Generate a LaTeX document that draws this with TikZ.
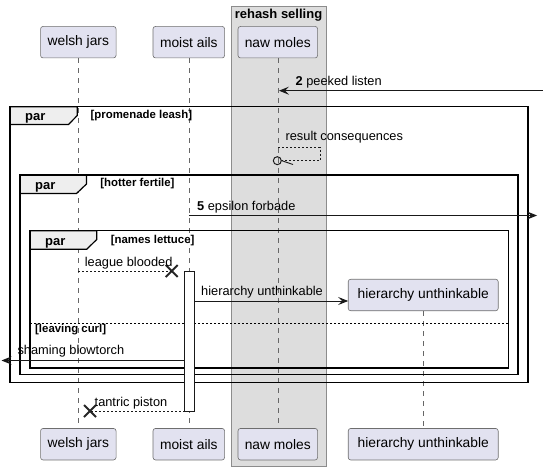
\documentclass[tikz,border=0pt]{standalone}
\usepackage{fontspec}
\setmainfont{Liberation Sans}
\usetikzlibrary{arrows.meta,shapes.misc}
\definecolor{partfill}{HTML}{E2E2F0}
\definecolor{partdraw}{HTML}{6E6E6E}
\definecolor{boxfill}{HTML}{DDDDDD}
\definecolor{tabfill}{HTML}{EEEEEE}
\newcommand{\fsz}[1]{\fontsize{#1}{#1}\selectfont}
\tikzset{
 part/.style={draw=partdraw, fill=partfill, rounded corners=2.5pt, line width=0.6pt, minimum height=31.5pt, inner sep=0pt, font=\fsz{13.8}},
 lifeln/.style={draw=black!60, line width=0.5pt, dash pattern=on 5pt off 5pt},
 msg/.style={line width=0.9pt, draw=black!90},
 dmsg/.style={line width=0.8pt, draw=black!90, dash pattern=on 2pt off 2pt},
 tip/.style={-{Stealth[length=10pt,width=8pt,inset=4pt]}},
 lbl/.style={anchor=west, inner sep=0pt, font=\fsz{12.8}},
 guard/.style={anchor=west, inner sep=0pt, font=\bfseries\fsz{11.4}},
 frame/.style={draw=black, line width=1.5pt},
 tabshape/.style={draw=black, line width=1.2pt, fill=tabfill},
 tabtxt/.style={anchor=base west, inner sep=0pt, font=\bfseries\fsz{13}},
 xmark/.style={draw=black!85, cross out, line width=2pt, minimum size=10pt, inner sep=0pt},
}
\begin{document}
\begin{tikzpicture}[x=1pt,y=-1pt]
\useasboundingbox (0,0) rectangle (543,470);
% group box
\node[fill=boxfill, draw=black!45, line width=0.8pt, minimum width=95pt, minimum height=460.5pt, inner sep=0pt] (grp) at (278.5,236.25) {};
\node[inner sep=0pt, font=\bfseries\fsz{13}] (grpt) at (278.5,15) {rehash selling};
% participants
\node[part, minimum width=75.5pt] (wjt) at (78.3,42.2) {welsh jars};
\node[part, minimum width=71.6pt] (mat) at (188.8,42.2) {moist ails};
\node[part, minimum width=79.6pt] (nmt) at (277.8,42.2) {naw moles};
\node[part, minimum width=75.5pt] (wjb) at (78.3,444.2) {welsh jars};
\node[part, minimum width=71.6pt] (mab) at (188.8,444.2) {moist ails};
\node[part, minimum width=79.6pt] (nmb) at (277.8,444.2) {naw moles};
\node[part, minimum width=150pt] (hub) at (423.2,444.2) {hierarchy unthinkable};
\node[part, minimum width=150pt] (hu) at (423.2,295) {hierarchy unthinkable};
% lifelines
\draw[lifeln] (wjt.south) -- (wjb.north);
\draw[lifeln] (mat.south) -- (mab.north);
\draw[lifeln] (nmt.south) -- (nmb.north);
\draw[lifeln] (hu.south) -- (hub.north);
% frames
\draw[tabshape] (10,106.7) -- (77.3,106.7) -- (77.3,115.5) -- (68.5,124.5) -- (10,124.5) -- cycle;
\draw[frame] (10,106.7) rectangle (528,382.7);
\node[tabtxt] (p1) at (25,120.5) {par};
\node[guard] (g1) at (90.5,116) {[promenade leash]};
\draw[tabshape] (20,175) -- (86.5,175) -- (86.5,184) -- (76.5,193.5) -- (20,193.5) -- cycle;
\draw[frame] (20,175) rectangle (518,374.5);
\node[tabtxt] (p2) at (35,189.5) {par};
\node[guard] (g2) at (100.2,184) {[hotter fertile]};
\draw[tabshape] (30,230.7) -- (96.7,230.7) -- (96.7,239.5) -- (86.7,249.3) -- (30,249.3) -- cycle;
\draw[frame] (30,230.7) rectangle (508.3,368);
\node[tabtxt] (p3) at (45,245.3) {par};
\node[guard] (g3) at (110.6,240.7) {[names lettuce]};
\draw[line width=0.7pt, dash pattern=on 2pt off 2pt] (30,323.3) -- (508.3,323.3);
\node[guard] (g4) at (35,330) {[leaving curl]};
% activation
\node[draw=black!90, fill=white, line width=0.9pt, minimum width=9.6pt, minimum height=139.5pt, inner sep=0pt] (act) at (189.5,341.25) {};
% message 2
\coordinate (m2a) at (543,90.7);
\coordinate (m2b) at (279,90.7);
\draw[msg,tip] (m2a) -- (m2b);
\node[lbl] (l2) at (295.4,81.7) {\textbf{2} peeked listen};
% self message
\coordinate (rcs) at (278.3,147.3);
\coordinate (rcc) at (320,160.7);
\node[circle, draw=black!90, line width=1pt, minimum size=8pt, inner sep=0pt] (rc) at (277.3,160.7) {};
\draw[dmsg] (rcs) -| (rcc) -- (rc.east);
\coordinate (rch) at (293,164.5);
\draw[msg] (rc.east) -- (rch);
\node[lbl] (lrc) at (285.4,137.3) {result consequences};
% message 5
\coordinate (m5a) at (188.8,215.5);
\coordinate (m5b) at (537,215.5);
\draw[msg,tip] (m5a) -- (m5b);
\node[lbl] (l5) at (197,206.7) {\textbf{5} epsilon forbade};
% league blooded
\coordinate (lba) at (78.3,271);
\node[xmark] (x1) at (171.7,271) {};
\draw[dmsg] (lba) -- (x1.center);
\node[lbl] (llb) at (84.7,262.7) {league blooded};
% hierarchy unthinkable
\coordinate (hua) at (194.3,301);
\coordinate (hue) at (348.2,301);
\draw[msg,tip] (hua) -- (hue);
\node[lbl] (lhu) at (201,292.3) {hierarchy unthinkable};
% shaming blowtorch
\coordinate (sba) at (184.7,360.5);
\coordinate (sbb) at (1.5,360.5);
\draw[msg,tip] (sba) -- (sbb);
\node[lbl] (lsb) at (17.3,350.7) {shaming blowtorch};
% tantric piston
\coordinate (tpa) at (184.7,411);
\node[xmark] (x2) at (90,411) {};
\draw[dmsg] (tpa) -- (x2.center);
\node[lbl] (ltp) at (94.5,402.7) {tantric piston};
\end{tikzpicture}
\end{document}
